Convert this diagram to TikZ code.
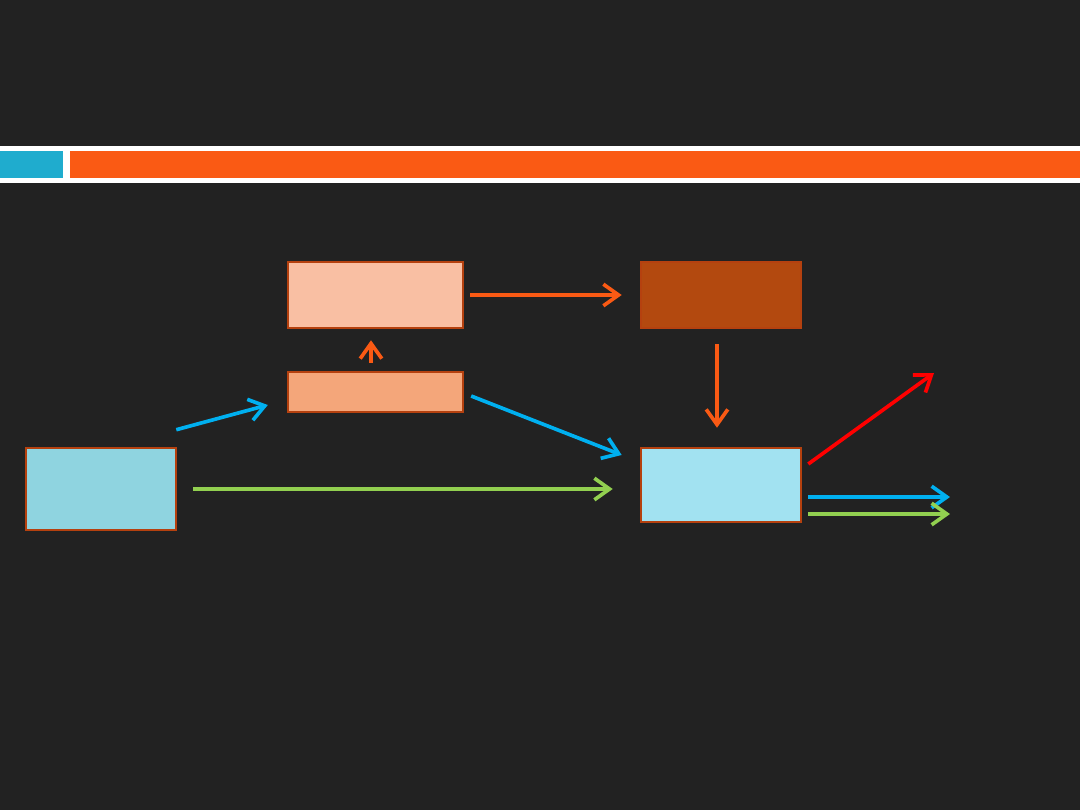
\documentclass[tikz,border=0pt]{standalone}
\usetikzlibrary{arrows.meta, calc, positioning}
\definecolor{bg}{RGB}{34,34,34}
\definecolor{bandblue}{RGB}{31,172,206}
\definecolor{bandorg}{RGB}{250,90,20}
\definecolor{brd}{RGB}{181,65,15}
\definecolor{fillA}{RGB}{143,212,224}
\definecolor{fillB}{RGB}{249,191,163}
\definecolor{fillC}{RGB}{244,166,122}
\definecolor{fillD}{RGB}{179,73,15}
\definecolor{fillE}{RGB}{162,226,241}
\definecolor{arorg}{RGB}{250,90,20}
\definecolor{arblue}{RGB}{0,176,240}
\definecolor{argreen}{RGB}{146,208,80}
\definecolor{arred}{RGB}{255,0,0}
\tikzset{
  box/.style={rectangle, draw=brd, line width=1.8pt, inner sep=0pt},
  ar/.style={line width=2.6pt, -{Straight Barb[length=3.8mm, width=5.4mm]}}
}

\begin{document}
\begin{tikzpicture}[x=0.025cm, y=-0.025cm]
    % --- fundo e faixa do topo ---
    \fill[bg] (0,0) rectangle (1080,810);
    \useasboundingbox (0,0) rectangle (1080,810);
    \fill[white] (0,146) rectangle (1080,183);
    \fill[bandblue] (0,151) rectangle (63,178);
    \fill[bandorg] (70,151) rectangle (1080,178);

    % --- caixas ---
    \node[box, fill=fillA, minimum width=3.75cm, minimum height=2.05cm] (A) at (101,489) {};
    \node[box, fill=fillB, minimum width=4.37cm, minimum height=1.65cm] (B) at (375.5,295) {};
    \node[box, fill=fillC, minimum width=4.37cm, minimum height=1.0cm] (C) at (375.5,392) {};
    \node[box, fill=fillD, minimum width=4.0cm, minimum height=1.65cm] (D) at (721,295) {};
    \node[box, fill=fillE, minimum width=4.0cm, minimum height=1.85cm] (E) at (721,485) {};

    % --- saídas livres ---
    \coordinate (outR) at (934,373);
    \coordinate (outB) at (950,497);
    \coordinate (outG) at (950,514);

    % --- setas laranja ---
    \draw[ar, arorg] ($(B.east)+(6,0)$) -- ($(D.west)+(-18,0)$);
    \draw[ar, arorg] ($(C.north)+(-4.5,-8)$) -- ($(B.south)+(-4.5,11)$);
    \draw[ar, arorg] ($(D.south)+(-4,15)$) -- ($(E.north)+(-4,-19)$);

    % --- setas azuis e verde ---
    \draw[ar, arblue] ($(A.north east)+(-1,-17)$) -- ($(C.west)+(-19,13)$);
    \draw[ar, arblue] ($(C.east)+(7,4)$) -- ($(E.west)+(-18,-30)$);
    \draw[ar, argreen] ($(A.east)+(16,0)$) -- ($(E.west)+(-27,4)$);

    % --- saídas ---
    \draw[ar, arred] ($(E.east)+(6,-21)$) -- (outR);
    \draw[ar, arblue] ($(E.east)+(6,12)$) -- (outB);
    \draw[ar, argreen] ($(E.east)+(6,29)$) -- (outG);
  \end{tikzpicture}
\end{document}
